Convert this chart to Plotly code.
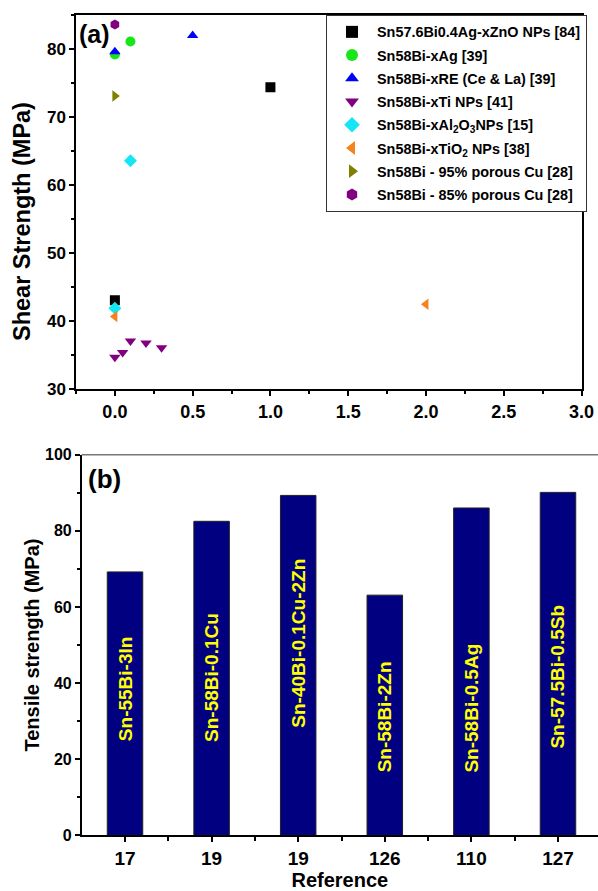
import plotly.graph_objects as go

# ---------------- Panel (a): shear strength vs. addition content ----------------
zno_x = [0.0, 1.0]
zno_y = [43.1, 74.4]
ag_x = [0.0, 0.1]
ag_y = [79.2, 81.1]
re_x = [0.0, 0.5]
re_y = [79.6, 82.0]
ti_x = [0.0, 0.05, 0.1, 0.2, 0.3]
ti_y = [34.7, 35.4, 37.1, 36.8, 36.1]
al2o3_x = [0.0, 0.1]
al2o3_y = [41.9, 63.6]
tio2_x = [0.0, 2.0]
tio2_y = [40.7, 42.5]
cu95_x = [0.0]
cu95_y = [73.1]
cu85_x = [0.0]
cu85_y = [83.6]

series_names = [
    "Sn57.6Bi0.4Ag-xZnO NPs [84]",
    "Sn58Bi-xAg [39]",
    "Sn58Bi-xRE (Ce &amp; La) [39]",
    "Sn58Bi-xTi NPs [41]",
    "Sn58Bi-xAl<sub>2</sub>O<sub>3</sub>NPs [15]",
    "Sn58Bi-xTiO<sub>2</sub> NPs [38]",
    "Sn58Bi - 95% porous Cu [28]",
    "Sn58Bi - 85% porous Cu [28]",
]
x_tick_a = [0.0, 0.5, 1.0, 1.5, 2.0, 2.5, 3.0]
y_tick_a = [30, 40, 50, 60, 70, 80]

# ---------------- Panel (b): tensile strength by reference ----------------
references = ["17", "19", "19", "126", "110", "127"]
alloys = ["Sn-55Bi-3In", "Sn-58Bi-0.1Cu", "Sn-40Bi-0.1Cu-2Zn",
          "Sn-58Bi-2Zn", "Sn-58Bi-0.5Ag", "Sn-57.5Bi-0.5Sb"]
tensile = [69.2, 82.5, 89.3, 63.1, 86.0, 90.1]
y_tick_b = [0, 20, 40, 60, 80, 100]

# layout helpers (label placement inside bars, in data units)
label_y = [38.4, 41.5, 50.4, 31.2, 33.4, 41.7]

styles = [
    ("square", "#000000"),
    ("circle", "#19e619"),
    ("triangle-up", "#0000ff"),
    ("triangle-down", "#800080"),
    ("diamond", "#14e6f5"),
    ("triangle-left", "#f5821e"),
    ("triangle-right", "#808000"),
    ("hexagon", "#800080"),
]
xs_all = [zno_x, ag_x, re_x, ti_x, al2o3_x, tio2_x, cu95_x, cu85_x]
ys_all = [zno_y, ag_y, re_y, ti_y, al2o3_y, tio2_y, cu95_y, cu85_y]

FONT = "Liberation Sans, Arial, sans-serif"

fig = go.Figure()
for i, (name, xs, ys, (sym, col)) in enumerate(zip(series_names, xs_all, ys_all, styles)):
    fig.add_trace(go.Scatter(
        x=xs, y=ys, mode="markers", name=name, legendgroup=f"g{i}",
        marker=dict(symbol=sym, color=col, size=10, line=dict(width=0)),
        xaxis="x", yaxis="y",
    ))

bar_x = list(range(1, len(references) + 1))
fig.add_trace(go.Bar(
    x=bar_x, y=tensile, width=0.41, showlegend=False, textposition="none",
    marker=dict(color="#000080", line=dict(color="#222222", width=1)),
    xaxis="x2", yaxis="y2",
))

annotations = []
for xi, txt, ly in zip(bar_x, alloys, label_y):
    annotations.append(dict(
        x=xi, y=ly, xref="x2", yref="y2", text=txt, showarrow=False,
        textangle=-90, font=dict(family=FONT, size=19, color="#ffff00", weight="bold"),
    ))
annotations.append(dict(x=77 / 598, y=1 - 34 / 891, xref="paper", yref="paper",
                        text="(a)", showarrow=False, xanchor="left", yanchor="middle",
                        font=dict(family=FONT, size=25, color="black", weight="bold")))
annotations.append(dict(x=86 / 598, y=1 - 479 / 891, xref="paper", yref="paper",
                        text="(b)", showarrow=False, xanchor="left", yanchor="middle",
                        font=dict(family=FONT, size=26, color="black", weight="bold")))
# y-axis title of panel (a) (placed slightly below the axis centre, as in the original)
annotations.append(dict(x=22 / 598, y=1 - 222 / 891, xref="paper", yref="paper",
                        text="Shear Strength (MPa)", showarrow=False, textangle=-90,
                        xanchor="center", yanchor="middle",
                        font=dict(family=FONT, size=23.5, color="black", weight="bold")))

axis_common = dict(showgrid=False, zeroline=False, showline=True, linecolor="black",
                   linewidth=1.5, ticks="outside", ticklen=5, tickwidth=1.5,
                   tickcolor="black", automargin=False)

fig.update_layout(
    width=598, height=891,
    margin=dict(l=0, r=0, t=0, b=0, autoexpand=False),
    paper_bgcolor="white", plot_bgcolor="white",
    font=dict(family=FONT, color="black"),
    showlegend=True,
    legend=dict(x=326 / 598, y=1 - 15 / 891, xanchor="left", yanchor="top",
                bgcolor="white", bordercolor="#333333", borderwidth=1,
                font=dict(family=FONT, size=14.4, color="black", weight="bold"),
                tracegroupgap=1.5, itemsizing="constant", itemwidth=40),
    xaxis=dict(domain=[76 / 598, 581.5 / 598], anchor="y", range=[-0.25, 3.0],
               tickvals=x_tick_a, ticktext=[f"{v:.1f}" for v in x_tick_a],
               mirror=True, minor=dict(dtick=0.25, tick0=0, ticks="outside", ticklen=3,
                                       tickwidth=1.5, tickcolor="black"),
               tickfont=dict(family=FONT, size=18, weight="bold"), **axis_common),
    yaxis=dict(domain=[1 - 389.3 / 891, 1 - 15 / 891], anchor="x", range=[30, 85],
               tickvals=y_tick_a, mirror=True,
               minor=dict(dtick=5, tick0=0, ticks="outside", ticklen=3, tickwidth=1.5,
                          tickcolor="black"),
               tickfont=dict(family=FONT, size=17, weight="bold"),
               **axis_common),
    xaxis2=dict(domain=[81.7 / 598, 1.0], anchor="y2", range=[0.5, 6.462],
                tickvals=bar_x, ticktext=references, mirror=False,
                minor=dict(tickvals=[1.5, 2.5, 3.5, 4.5, 5.5], ticks="outside", ticklen=4,
                           tickwidth=1.5, tickcolor="black"),
                tickfont=dict(family=FONT, size=19, weight="bold"),
                title=dict(text="Reference", standoff=2,
                           font=dict(family=FONT, size=20, weight="bold")),
                **axis_common),
    yaxis2=dict(domain=[1 - 835.3 / 891, 1 - 454.7 / 891], anchor="x2", range=[0, 100],
                tickvals=y_tick_b,
                minor=dict(dtick=10, tick0=0, ticks="outside", ticklen=3, tickwidth=1.5,
                           tickcolor="black"),
                tickfont=dict(family=FONT, size=16, weight="bold"),
                title=dict(text="Tensile strength (MPa)", standoff=0,
                           font=dict(family=FONT, size=20, weight="bold")),
                **axis_common),
    shapes=[dict(type="line", xref="x2 domain", yref="y2 domain", x0=0, x1=1, y0=1, y1=1,
                 line=dict(color="#777777", width=1.5))],
    annotations=annotations,
)

fig.write_html(
    "out.html",
    config={"displayModeBar": False},
    post_script="document.body.style.margin='0px';document.body.style.overflow='hidden';",
)
